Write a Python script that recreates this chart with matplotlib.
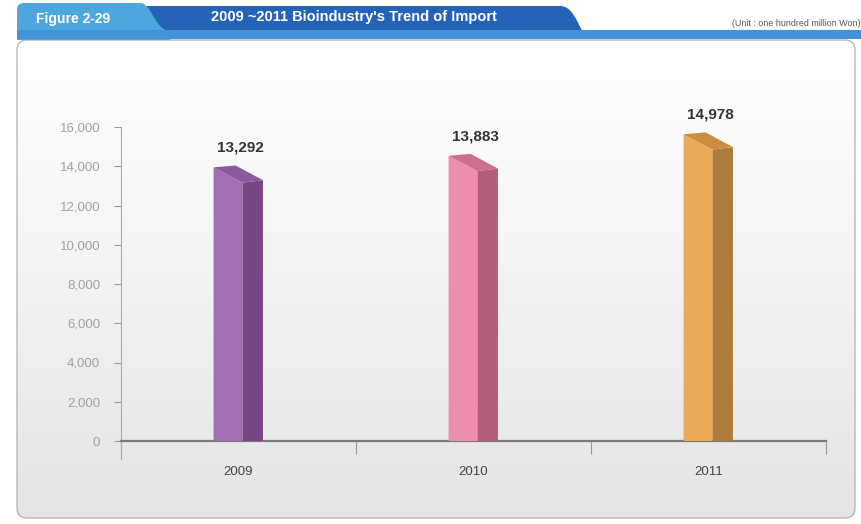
import matplotlib.pyplot as plt
import numpy as np
from matplotlib.patches import FancyBboxPatch, PathPatch, Rectangle
from matplotlib.path import Path

plt.rcParams['font.family'] = ['Liberation Sans', 'DejaVu Sans']

years = ['2009', '2010', '2011']
imports = [13292, 13883, 14978]
labels = ['13,292', '13,883', '14,978']
yticks = [0, 2000, 4000, 6000, 8000, 10000, 12000, 14000, 16000]

front_cols = ['#A36DB3', '#EC8FAE', '#EBAA56']
side_cols = ['#774584', '#B45D7B', '#AD7B3A']
top_cols = ['#8C5A9C', '#CC6E8E', '#CC8C40']

W, H = 862, 524
fig = plt.figure(figsize=(W / 100, H / 100), dpi=100)

# background / frame in pixel coords
bg = fig.add_axes([0, 0, 1, 1])
bg.set_xlim(0, W)
bg.set_ylim(H, 0)
bg.axis('off')

panel = FancyBboxPatch((17, 40), 838, 478, boxstyle='round,pad=0,rounding_size=10',
                       facecolor='none', edgecolor='#b8b8b8', lw=1.0, zorder=2)
bg.add_patch(panel)
grad = np.linspace(0, 1, 256).reshape(-1, 1)
im = bg.imshow(grad, extent=(17, 855, 518, 40), cmap=plt.matplotlib.colors.LinearSegmentedColormap.from_list(
    'g', ['#ffffff', '#f3f3f3', '#e4e4e4']), aspect='auto', zorder=1)
im.set_clip_path(panel)

# dark title tab
dark = Path([(130, 34), (130, 6), (560, 6), (572, 6), (576, 20), (584, 34), (130, 34)],
            [Path.MOVETO, Path.LINETO, Path.LINETO, Path.CURVE4, Path.CURVE4, Path.CURVE4, Path.CLOSEPOLY])
bg.add_patch(PathPatch(dark, facecolor='#2563B8', edgecolor='none', zorder=3))
# light tab
light = Path([(17, 40), (17, 10), (17, 3), (24, 3), (140, 3), (152, 3), (154, 30), (170, 31), (170, 40), (17, 40)],
             [Path.MOVETO, Path.LINETO, Path.CURVE3, Path.CURVE3, Path.LINETO,
              Path.CURVE4, Path.CURVE4, Path.CURVE4, Path.LINETO, Path.CLOSEPOLY])
bg.add_patch(PathPatch(light, facecolor='#4DA6DE', edgecolor='none', zorder=4))
bg.add_patch(Rectangle((17, 30), W - 17, 9, facecolor='#3F93D6', edgecolor='none', zorder=5))

bg.text(36, 19, 'Figure 2-29', color='white', fontsize=10, fontweight='bold', va='center', zorder=6)
bg.text(354, 17, "2009 ~2011 Bioindustry's Trend of Import", color='white', fontsize=10.5,
        fontweight='bold', ha='center', va='center', zorder=6)
bg.text(861, 24, '(Unit : one hundred million Won)', color='#555555', fontsize=6.4,
        ha='right', va='center', zorder=6)

# main chart
ax = fig.add_axes([121 / W, (H - 441) / H, 705 / W, 314 / H])
ax.set_facecolor('none')
ax.set_xlim(-0.5, 2.5)
ax.set_ylim(0, 16000)

for i, v in enumerate(imports):
    xl, xm, xr, xa = i - 0.106, i + 0.017, i + 0.104, i - 0.013
    yl, ym, yr, ya = v + 650, v - 130, v, v + 750
    ax.fill([xl, xm, xm, xl], [0, 0, ym, yl], color=front_cols[i], lw=0, zorder=3)
    ax.fill([xm, xr, xr, xm], [0, 0, yr, ym], color=side_cols[i], lw=0, zorder=3)
    ax.fill([xl, xa, xr, xm], [yl, ya, yr, ym], color=top_cols[i], lw=0, zorder=3)
    ax.text(i + 0.01, v + 1650, labels[i], ha='center', va='center', fontsize=11,
            fontweight='bold', color='#333333', clip_on=False)

ax.set_yticks(yticks)
ax.set_yticklabels([f'{t:,}' for t in yticks], color='#a0a0a0', fontsize=9.5)
ax.tick_params(axis='y', length=5, color='#999999', width=0.8, pad=10)
ax.set_xticks([-0.5, 0.5, 1.5, 2.5])
ax.set_xticklabels([])
ax.tick_params(axis='x', length=9, color='#999999', width=0.8)
for i, y in enumerate(years):
    ax.text(i, -1600, y, ha='center', va='center', fontsize=9.5, color='#444444', clip_on=False)

for s in ['top', 'right']:
    ax.spines[s].set_visible(False)
ax.spines['left'].set_color('#aaaaaa')
ax.spines['left'].set_linewidth(0.8)
ax.spines['left'].set_bounds(-900, 16000)
ax.spines['bottom'].set_color('#7a7a7a')
ax.spines['bottom'].set_linewidth(1.6)

fig.savefig('out.png', dpi=100)
